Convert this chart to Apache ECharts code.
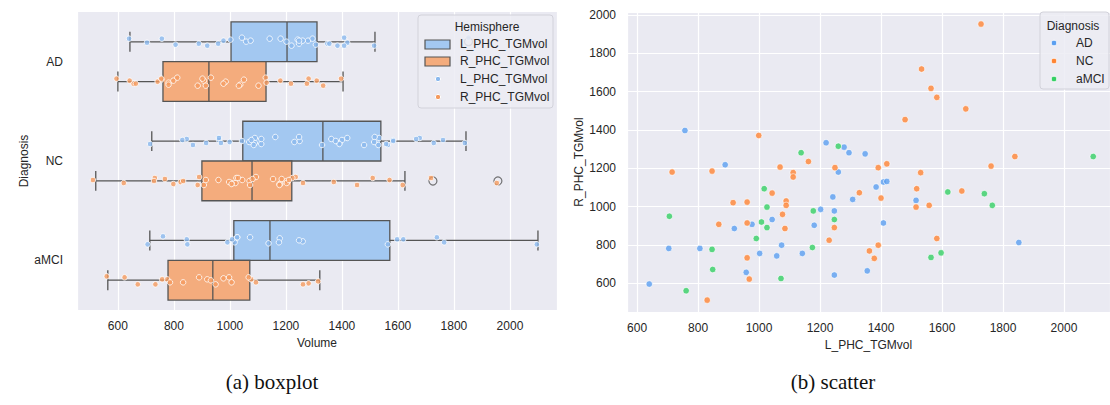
<!DOCTYPE html>
<html>
<head>
<meta charset="utf-8">
<title>PHC TGM volume by diagnosis</title>
<script src="https://cdn.jsdelivr.net/npm/echarts@6/dist/echarts.min.js"></script>
<style>
  html, body { margin: 0; padding: 0; background: #ffffff; }
  #chart { width: 1110px; height: 405px; }
</style>
</head>
<body>
<div id="chart"></div>
<script>
// Diagnosis groups and hemisphere measures
const categories = ['AD', 'NC', 'aMCI'];
const hemispheres = ['L_PHC_TGMvol', 'R_PHC_TGMvol'];

// Per-subject volumes (left hemisphere, right hemisphere), one pair per subject
const AD_L = [757, 889, 977, 919, 1043, 704, 806, 1002, 1058, 958, 640, 1220, 1279, 1295, 1348, 1260,
  1384, 1408, 1419, 1307, 1242, 1202, 1247, 1181, 1408, 1074, 1142, 1355, 1247, 1515, 1852];
const AD_R = [1397, 1218, 907, 885, 932, 781, 781, 755, 742, 656, 595, 1333, 1310, 1281, 1275, 1180,
  1102, 1128, 1131, 1037, 1050, 985, 977, 902, 914, 798, 755, 664, 642, 1032, 812];

const NC_L = [999, 715, 846, 1043, 915, 961, 868, 961, 961, 968, 830, 1479, 1162, 1069, 1112, 1112,
  1249, 1391, 1419, 1329, 1400, 1089, 1089, 1077, 1085, 1247, 1230, 1391, 1362, 1378, 1728, 1533,
  1564, 1583, 1678, 1839, 1761, 1530, 1517, 1515, 1558, 1665, 1583];
const NC_R = [1371, 1180, 1185, 1070, 1020, 1023, 907, 914, 732, 621, 511, 1454, 1235, 1206, 1177, 1154,
  1203, 1203, 1223, 1072, 1044, 1029, 1006, 959, 885, 890, 824, 798, 768, 729, 1953, 1718,
  1617, 1570, 1510, 1261, 1211, 1177, 1093, 997, 1006, 1081, 833];

const aMCI_L = [1017, 1026, 706, 1008, 1026, 991, 846, 848, 761, 1260, 1138, 1178, 1247, 1175, 1072,
  2096, 1619, 1739, 1765, 1597, 1564];
const aMCI_R = [1093, 997, 949, 919, 890, 833, 776, 671, 560, 1315, 1281, 977, 932, 786, 624,
  1261, 1076, 1067, 1006, 758, 734];

// Box statistics per diagnosis: [lower whisker, Q1, median, Q3, upper whisker]
const L_boxStats = [
  [643, 1004, 1204, 1311, 1518],
  [721, 1046, 1332, 1539, 1843],
  [714, 1014, 1143, 1571, 2100]
];
const R_boxStats = [
  [600, 761, 925, 1129, 1404],
  [521, 900, 1079, 1221, 1625],
  [564, 779, 939, 1071, 1321]
];
// Points beyond the whiskers: [diagnosis index, volume]
const L_fliers = [[0, 1852]];
const R_fliers = [[1, 1725], [1, 1957]];

// ---- styling ----
const FONT = "'Liberation Sans', Arial, sans-serif";
const TEXT = '#262626';
const PANEL = '#eaeaf2';
const EDGE = '#555555';
const boxFill = ['#a3c8f1', '#f4ac7d'];
const stripColor = ['#8bb9ee', '#f59b5f'];
const groupColor = ['#5b9ff0', '#ff8534', '#35cf64'];
// small vertical spread (px) for the strip points
const jitterPx = [-3, 2, -1, 4, -4, 1, 3, -2, 0, 2, -3, 4, -1];

const leftVals = [AD_L, NC_L, aMCI_L];
const rightVals = [AD_R, NC_R, aMCI_R];

function boxRenderer(side, fill) {
  return function (params, api) {
    const cat = api.value(0);
    const lo = api.value(1), q1 = api.value(2), med = api.value(3), q3 = api.value(4), hi = api.value(5);
    const band = api.size([0, 1])[1];
    const yc = api.coord([lo, cat])[1] + side * band * 0.2;
    const h = band * 0.4;
    const x = v => api.coord([v, cat])[0];
    const ln = { stroke: EDGE, lineWidth: 1.3 };
    return {
      type: 'group',
      children: [
        { type: 'line', shape: { x1: x(lo), y1: yc, x2: x(q1), y2: yc }, style: ln },
        { type: 'line', shape: { x1: x(q3), y1: yc, x2: x(hi), y2: yc }, style: ln },
        { type: 'line', shape: { x1: x(lo), y1: yc - h / 4, x2: x(lo), y2: yc + h / 4 }, style: ln },
        { type: 'line', shape: { x1: x(hi), y1: yc - h / 4, x2: x(hi), y2: yc + h / 4 }, style: ln },
        { type: 'rect', shape: { x: x(q1), y: yc - h / 2, width: x(q3) - x(q1), height: h },
          style: { fill: fill, stroke: EDGE, lineWidth: 1.3 } },
        { type: 'line', shape: { x1: x(med), y1: yc - h / 2, x2: x(med), y2: yc + h / 2 }, style: ln }
      ]
    };
  };
}

function stripData(groups, side) {
  const out = [];
  let k = 0;
  groups.forEach((vals, ci) => {
    vals.forEach(v => {
      out.push({ value: [v, ci], symbolOffset: [0, side * 20 + jitterPx[k % jitterPx.length]] });
      k++;
    });
  });
  return out;
}

function flierData(list, side) {
  return list.map(([ci, v]) => ({ value: [v, ci], symbolOffset: [0, side * 20] }));
}

const plainNumber = v => String(v);
const axisText = { color: TEXT, fontSize: 12, fontFamily: FONT };
const nameText = { color: TEXT, fontSize: 12, fontFamily: FONT };

const option = {
  backgroundColor: '#ffffff',
  animation: false,
  grid: [
    { left: 77, right: 553, top: 12, bottom: 95, show: true, backgroundColor: PANEL, borderWidth: 0 },
    { left: 627, right: 0, top: 12, bottom: 93, show: true, backgroundColor: PANEL, borderWidth: 0 }
  ],
  xAxis: [
    {
      gridIndex: 0, type: 'value', min: 454, max: 2168, minInterval: 200, maxInterval: 200,
      name: 'Volume', nameLocation: 'middle', nameGap: 26, nameTextStyle: nameText,
      axisLine: { show: false }, axisTick: { show: false },
      axisLabel: Object.assign({ margin: 10, showMinLabel: false, showMaxLabel: false, formatter: plainNumber }, axisText),
      splitLine: { show: true, lineStyle: { color: '#ffffff', width: 1.2 } }
    },
    {
      gridIndex: 1, type: 'value', min: 567, max: 2151, minInterval: 200, maxInterval: 200,
      name: 'L_PHC_TGMvol', nameLocation: 'middle', nameGap: 26, nameTextStyle: nameText,
      axisLine: { show: false }, axisTick: { show: false },
      axisLabel: Object.assign({ margin: 10, showMinLabel: false, showMaxLabel: false, formatter: plainNumber }, axisText),
      splitLine: { show: true, lineStyle: { color: '#ffffff', width: 1.2 } }
    }
  ],
  yAxis: [
    {
      gridIndex: 0, type: 'category', data: categories, inverse: true,
      name: 'Diagnosis', nameLocation: 'middle', nameGap: 47, nameTextStyle: nameText,
      axisLine: { show: false }, axisTick: { show: false },
      axisLabel: Object.assign({ margin: 14 }, axisText),
      splitLine: { show: false }
    },
    {
      gridIndex: 1, type: 'value', min: 449, max: 2016, minInterval: 200, maxInterval: 200,
      name: 'R_PHC_TGMvol', nameLocation: 'middle', nameGap: 42, nameTextStyle: nameText,
      axisLine: { show: false }, axisTick: { show: false },
      axisLabel: Object.assign({ margin: 11, showMinLabel: false, showMaxLabel: false, formatter: plainNumber }, axisText),
      splitLine: { show: true, lineStyle: { color: '#ffffff', width: 1.2 } }
    }
  ],
  series: [
    {
      name: hemispheres[0], type: 'custom', xAxisIndex: 0, yAxisIndex: 0,
      renderItem: boxRenderer(-1, boxFill[0]),
      encode: { x: [1, 2, 3, 4, 5], y: 0 },
      data: L_boxStats.map((s, i) => [i].concat(s)), z: 2
    },
    {
      name: hemispheres[1], type: 'custom', xAxisIndex: 0, yAxisIndex: 0,
      renderItem: boxRenderer(1, boxFill[1]),
      encode: { x: [1, 2, 3, 4, 5], y: 0 },
      data: R_boxStats.map((s, i) => [i].concat(s)), z: 2
    },
    {
      name: 'fliers', type: 'scatter', xAxisIndex: 0, yAxisIndex: 0, symbol: 'circle', symbolSize: 8,
      itemStyle: { color: 'rgba(0,0,0,0)', borderColor: EDGE, borderWidth: 1.2 },
      data: flierData(L_fliers, -1).concat(flierData(R_fliers, 1)), z: 3
    },
    {
      name: hemispheres[0] + ' points', type: 'scatter', xAxisIndex: 0, yAxisIndex: 0, symbolSize: 5.5,
      itemStyle: { color: stripColor[0], borderColor: '#ffffff', borderWidth: 1 },
      data: stripData(leftVals, -1), z: 4
    },
    {
      name: hemispheres[1] + ' points', type: 'scatter', xAxisIndex: 0, yAxisIndex: 0, symbolSize: 5.5,
      itemStyle: { color: stripColor[1], borderColor: '#ffffff', borderWidth: 1 },
      data: stripData(rightVals, 1), z: 4
    }
  ].concat(categories.map((c, i) => ({
    name: c, type: 'scatter', xAxisIndex: 1, yAxisIndex: 1, symbolSize: 6.5,
    itemStyle: { color: groupColor[i], borderColor: '#ffffff', borderWidth: 0.8 },
    data: leftVals[i].map((v, j) => [v, rightVals[i][j]]), z: 4
  }))),
  graphic: [
    // hemisphere legend
    { type: 'rect', z: 50, shape: { x: 418, y: 15, width: 135, height: 93, r: 3 },
      style: { fill: 'rgba(236,236,243,0.85)', stroke: '#d2d2da', lineWidth: 1 } },
    { type: 'text', z: 51, x: 487, y: 27,
      style: { text: 'Hemisphere', fill: TEXT, font: '12px ' + FONT, textAlign: 'center', textVerticalAlign: 'middle' } },
    { type: 'rect', z: 51, shape: { x: 425, y: 40, width: 25, height: 9 },
      style: { fill: boxFill[0], stroke: EDGE, lineWidth: 1.2 } },
    { type: 'rect', z: 51, shape: { x: 425, y: 57, width: 25, height: 9 },
      style: { fill: boxFill[1], stroke: EDGE, lineWidth: 1.2 } },
    { type: 'circle', z: 51, shape: { cx: 438, cy: 79, r: 2.6 },
      style: { fill: stripColor[0], stroke: '#ffffff', lineWidth: 1 } },
    { type: 'circle', z: 51, shape: { cx: 438, cy: 97, r: 2.6 },
      style: { fill: stripColor[1], stroke: '#ffffff', lineWidth: 1 } }
  ].concat([44, 61, 79, 97].map((y, i) => ({
    type: 'text', z: 51, x: 460, y: y,
    style: { text: hemispheres[i % 2], fill: TEXT, font: '12px ' + FONT, textVerticalAlign: 'middle' }
  }))).concat([
    // diagnosis legend
    { type: 'rect', z: 50, shape: { x: 1040, y: 12, width: 69, height: 77, r: 3 },
      style: { fill: 'rgba(236,236,243,0.85)', stroke: '#d2d2da', lineWidth: 1 } },
    { type: 'text', z: 51, x: 1073, y: 26,
      style: { text: 'Diagnosis', fill: TEXT, font: '12px ' + FONT, textAlign: 'center', textVerticalAlign: 'middle' } }
  ]).concat(categories.map((c, i) => ({
    type: 'circle', z: 51, shape: { cx: 1054, cy: 43 + i * 18, r: 2.8 },
    style: { fill: groupColor[i], stroke: '#ffffff', lineWidth: 0.8 }
  }))).concat(categories.map((c, i) => ({
    type: 'text', z: 51, x: 1076, y: 43 + i * 18,
    style: { text: c, fill: TEXT, font: '12px ' + FONT, textVerticalAlign: 'middle' }
  }))).concat([
    // panel captions
    { type: 'text', x: 272, y: 382,
      style: { text: '(a) boxplot', fill: '#111111', font: "21px 'Liberation Serif', 'DejaVu Serif', serif", textAlign: 'center', textVerticalAlign: 'middle' } },
    { type: 'text', x: 833, y: 382,
      style: { text: '(b) scatter', fill: '#111111', font: "21px 'Liberation Serif', 'DejaVu Serif', serif", textAlign: 'center', textVerticalAlign: 'middle' } }
  ])
};

const chart = echarts.init(document.getElementById('chart'), null, { renderer: 'svg' });
chart.setOption(option);
</script>
</body>
</html>
